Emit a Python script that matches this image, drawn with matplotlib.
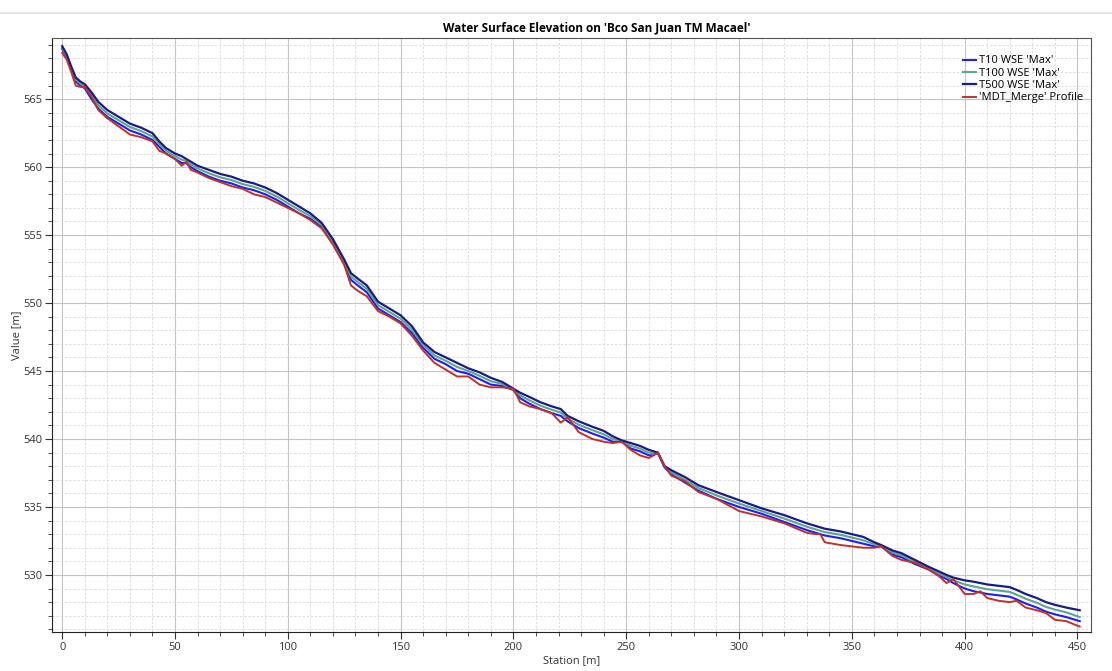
import matplotlib
matplotlib.use("Agg")
import matplotlib.pyplot as plt
from matplotlib.lines import Line2D
from matplotlib.ticker import MultipleLocator

plt.rcParams["font.family"] = ["Open Sans", "DejaVu Sans"]

# station [m]
station = [0, 2, 4, 6, 8, 10, 13, 16, 20, 25, 30, 35, 40, 43, 46, 50, 53, 55, 57, 60,
           65, 70, 75, 80, 85, 90, 95, 100, 105, 110, 115, 120, 125, 128, 131, 135, 140,
           145, 150, 155, 160, 165, 170, 175, 180, 185, 190, 195, 200, 203, 207, 212,
           217, 221, 224, 229, 235, 240, 244, 248, 252, 256, 260, 262, 264, 267, 270,
           276, 282, 290, 300, 310, 320, 330, 334, 336, 338, 345, 350, 355, 360, 363,
           368, 372, 378, 384, 388, 392, 395, 400, 404, 407, 410, 415, 420, 423, 427,
           432, 436, 440, 445, 451]

t500 = [568.9, 568.3, 567.4, 566.6, 566.3, 566.1, 565.5, 564.8, 564.2, 563.7, 563.2,
        562.9, 562.5, 561.9, 561.4, 561.0, 560.8, 560.6, 560.4, 560.1, 559.8, 559.5,
        559.3, 559.0, 558.8, 558.5, 558.1, 557.6, 557.1, 556.6, 555.9, 554.7, 553.2,
        552.2, 551.8, 551.3, 550.1, 549.6, 549.1, 548.3, 547.1, 546.4, 546.0, 545.6,
        545.2, 544.9, 544.5, 544.2, 543.7, 543.4, 543.1, 542.7, 542.4, 542.2, 541.7,
        541.3, 540.9, 540.6, 540.2, 539.9, 539.7, 539.5, 539.2, 539.1, 539.0, 538.0,
        537.7, 537.2, 536.6, 536.1, 535.5, 534.9, 534.4, 533.8, 533.6, 533.5, 533.4,
        533.2, 533.0, 532.8, 532.4, 532.2, 531.8, 531.6, 531.1, 530.6, 530.3, 530.0,
        529.8, 529.6, 529.5, 529.4, 529.3, 529.2, 529.1, 528.9, 528.6, 528.3, 528.0,
        527.8, 527.6, 527.4]

t100 = [568.8, 568.2, 567.3, 566.45, 566.15, 565.95, 565.25, 564.55, 563.95, 563.45,
        562.95, 562.65, 562.25, 561.7, 561.2, 560.8, 560.55, 560.45, 560.2, 559.9,
        559.55, 559.25, 559.05, 558.75, 558.55, 558.25, 557.85, 557.35, 556.85, 556.4,
        555.75, 554.55, 553.05, 551.95, 551.55, 551.05, 549.85, 549.35, 548.85, 548.05,
        546.9, 546.15, 545.75, 545.3, 545.0, 544.65, 544.25, 544.05, 543.65, 543.2,
        542.85, 542.45, 542.15, 541.95, 541.5, 541.05, 540.65, 540.35, 540.0, 539.85,
        539.5, 539.3, 539.0, 538.95, 539.0, 537.95, 537.55, 537.0, 536.4, 535.85,
        535.25, 534.7, 534.15, 533.55, 533.35, 533.25, 533.15, 532.95, 532.75, 532.55,
        532.25, 532.15, 531.65, 531.45, 530.95, 530.5, 530.15, 529.85, 529.6, 529.3,
        529.15, 529.05, 528.95, 528.85, 528.75, 528.55, 528.25, 527.95, 527.65, 527.45,
        527.25, 526.9]

t10 = [568.7, 568.1, 567.2, 566.3, 566.0, 565.8, 565.0, 564.3, 563.7, 563.2, 562.7,
       562.4, 562.0, 561.5, 561.0, 560.6, 560.3, 560.3, 560.0, 559.7, 559.3, 559.0,
       558.8, 558.5, 558.3, 558.0, 557.6, 557.1, 556.6, 556.2, 555.6, 554.4, 552.9,
       551.7, 551.3, 550.8, 549.6, 549.1, 548.6, 547.8, 546.7, 545.9, 545.5, 545.0,
       544.8, 544.4, 544.0, 543.9, 543.6, 543.0, 542.6, 542.2, 541.9, 541.7, 541.3,
       540.8, 540.4, 540.1, 539.8, 539.8, 539.3, 539.1, 538.8, 538.8, 539.0, 537.9,
       537.4, 536.8, 536.2, 535.6, 535.0, 534.5, 533.9, 533.3, 533.1, 533.0, 532.9,
       532.7, 532.5, 532.3, 532.1, 532.1, 531.5, 531.3, 530.8, 530.4, 530.0, 529.7,
       529.4, 529.0, 528.8, 528.7, 528.6, 528.5, 528.4, 528.2, 527.9, 527.6, 527.3,
       527.1, 526.9, 526.6]

ground = [568.4, 567.9, 567.0, 566.0, 565.9, 565.9, 565.2, 564.2, 563.6, 563.0, 562.4,
          562.2, 561.9, 561.2, 561.0, 560.6, 560.1, 560.4, 559.8, 559.6, 559.2, 558.9,
          558.6, 558.4, 558.0, 557.8, 557.4, 557.0, 556.6, 556.1, 555.5, 554.3, 552.8,
          551.3, 550.9, 550.5, 549.4, 549.0, 548.5, 547.6, 546.5, 545.6, 545.1, 544.6,
          544.6, 544.0, 543.8, 543.8, 543.7, 542.7, 542.4, 542.2, 541.9, 541.2, 541.6,
          540.5, 540.0, 539.8, 539.7, 539.8, 539.2, 538.8, 538.6, 538.8, 539.0, 538.0,
          537.3, 536.9, 536.1, 535.6, 534.7, 534.3, 533.8, 533.1, 533.0, 533.0, 532.4,
          532.2, 532.1, 532.0, 532.0, 532.1, 531.4, 531.1, 530.9, 530.4, 530.0, 529.4,
          529.7, 528.6, 528.6, 528.8, 528.3, 528.1, 528.0, 528.1, 527.6, 527.4, 527.2,
          526.7, 526.6, 526.2]

fig = plt.figure(figsize=(11.12, 6.71), dpi=100)
ax = fig.add_axes([0.0468, 0.0581, 0.9343, 0.8853])

ax.plot(station, t10, color="#1f1ff0", lw=1.5, label="T10 WSE 'Max'")
ax.plot(station, t100, color="#5aa595", lw=1.5, label="T100 WSE 'Max'")
ax.plot(station, t500, color="#1c1c80", lw=1.6, label="T500 WSE 'Max'")
ax.plot(station, ground, color="#c0312b", lw=1.4, label="'MDT_Merge' Profile")

ax.set_xlim(-4.5, 456)
ax.set_ylim(525.8, 569.5)
ax.xaxis.set_major_locator(MultipleLocator(50))
ax.xaxis.set_minor_locator(MultipleLocator(10))
ax.yaxis.set_major_locator(MultipleLocator(5))
ax.yaxis.set_minor_locator(MultipleLocator(1))
ax.grid(which="major", color="#c4c4c4", lw=0.8)
ax.grid(which="minor", color="#d8d8d8", lw=0.6, ls=(0, (3, 2)))
ax.set_axisbelow(True)
ax.tick_params(which="major", direction="out", length=5, pad=2, labelsize=8,
               colors="#333333")
ax.tick_params(which="minor", direction="out", length=3, colors="#333333")
for s in ["top", "right"]:
    ax.spines[s].set_color("#555555")
ax.spines["left"].set_color("#222222")
ax.spines["bottom"].set_color("#222222")

ax.set_xlabel("Station [m]", fontsize=8, color="#333333", labelpad=2)
ax.set_ylabel("Value [m]", fontsize=8, color="#333333")
ax.yaxis.set_label_coords(-0.029, 0.5)
ax.set_title("Water Surface Elevation on 'Bco San Juan TM Macael'", fontsize=8.5,
             fontweight="bold", pad=5)
ax.title.set_x(0.524)

leg = ax.legend(loc="upper right", bbox_to_anchor=(0.997, 0.978), frameon=False,
                fontsize=8, handlelength=1.2, handletextpad=0.3, labelspacing=0.12,
                borderaxespad=0)

# toolbar strip at the top of the window
fig.add_artist(Line2D([0, 1], [1 - 13 / 671, 1 - 13 / 671], color="#e6e6e6", lw=1.5))

fig.savefig("out.png", dpi=100)
